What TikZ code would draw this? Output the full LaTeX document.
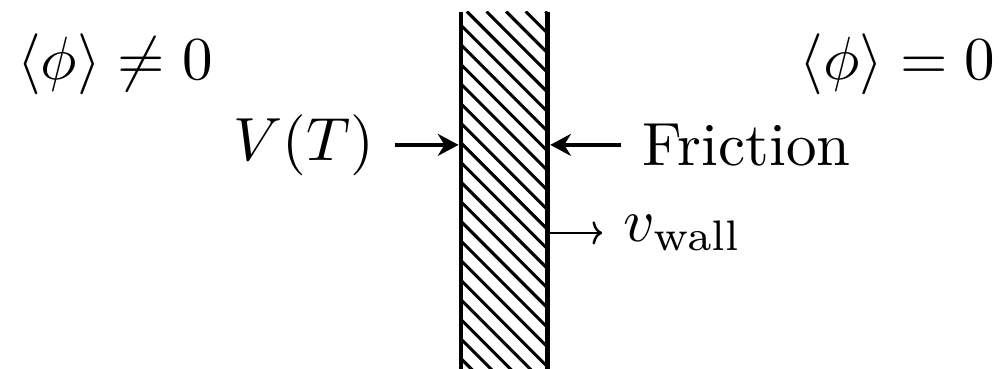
\documentclass[tikz,border=0pt]{standalone}
\usetikzlibrary{positioning,arrows.meta}
\begin{document}
\begin{tikzpicture}[
    wallbox/.style={minimum width=5mm,minimum height=22.6mm,
                    inner sep=0pt,outer sep=0pt},
    hatch/.style={line width=0.5pt},
    edge/.style={thick},
    force/.style={-{Stealth[length=3.4pt,width=3.6pt,inset=1.1pt]},semithick,
                  shorten >=0.4pt},
    vel/.style={-{To[length=1.6pt,width=3.8pt]},shorten <=0.4pt}]
  \useasboundingbox (0,0) rectangle (5.779,2.126);
  \clip (0,0) rectangle (5.779,2.126);

  % the wall runs off the bottom of the picture, so no lid and no floor
  \node[wallbox] (wall) at (2.906,0.9295) {};
  \begin{scope}
    \clip (wall.south west) rectangle (wall.north east);
    \foreach \k in {-22,...,5}
      \draw[hatch] ([xshift=\k*1.13mm+0.34mm]wall.north west) -- ++(2.4,-2.4);
  \end{scope}
  \draw[edge] (wall.north west) -- (wall.south west);
  \draw[edge] (wall.north east) -- (wall.south east);

  \node (broken) at (0.663,1.755) {$\langle\phi\rangle \neq 0$};
  \node (sym)    at (5.171,1.755) {$\langle\phi\rangle = 0$};

  \node (pot)  at (1.749,1.291) {$V(T)$};
  \node (fric) at (4.301,1.291) {Friction};
  \node (vw)   at (3.934,0.784) {$v_{\mathrm{wall}}$};

  \draw[force] (pot)  -- (pot -| wall.west);
  \draw[force] (fric) -- (fric -| wall.east);
  \draw[vel] (vw -| wall.east) -- (vw);
\end{tikzpicture}
\end{document}
